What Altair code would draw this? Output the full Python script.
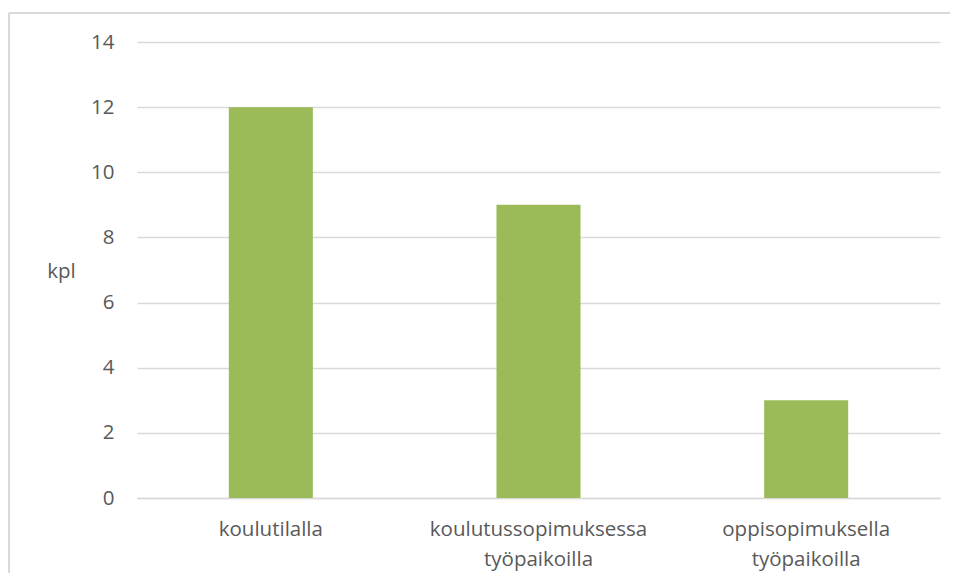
import altair as alt
import pandas as pd

categories = ["koulutilalla", "koulutussopimuksessa työpaikoilla", "oppisopimuksella työpaikoilla"]
values = [12, 9, 3]
y_ticks = [0, 2, 4, 6, 8, 10, 12, 14]

df = pd.DataFrame({"paikka": categories, "kpl": values})

FONT = "Open Sans"
FS = 20.5
GREY = "#595959"
GRID = "#D9D9D9"

bars = alt.Chart(df).mark_bar(color="#9BBB59").encode(
    x=alt.X(
        "paikka:N",
        sort=categories,
        scale=alt.Scale(paddingInner=0.686, paddingOuter=0.343),
        axis=alt.Axis(
            title=None,
            labelAngle=0,
            labelExpr="split(datum.label, ' ')",
            labelFont=FONT,
            labelFontSize=FS,
            labelColor=GREY,
            labelLineHeight=30,
            labelPadding=21,
            labelBaseline="top",
            labelLimit=500,
            ticks=False,
            domainColor=GRID,
            domainWidth=1.5,
        ),
    ),
    y=alt.Y(
        "kpl:Q",
        scale=alt.Scale(domain=[0, 14]),
        axis=alt.Axis(
            values=y_ticks,
            title="kpl",
            titleAngle=0,
            titleFont=FONT,
            titleFontSize=FS,
            titleFontWeight="normal",
            titleColor=GREY,
            titleX=-76,
            titleY=229,
            titleAlign="center",
            titleBaseline="middle",
            labelFont=FONT,
            labelFontSize=FS,
            labelColor=GREY,
            labelPadding=23,
            ticks=False,
            domain=False,
            gridColor=GRID,
            gridWidth=1.5,
        ),
    ),
)

top_border = alt.Chart(df).mark_rule(stroke=GRID, strokeWidth=2).encode(
    x=alt.value(-128),
    x2=alt.value(830),
    y=alt.value(-29),
)
left_border = alt.Chart(df).mark_rule(stroke=GRID, strokeWidth=2).encode(
    x=alt.value(-128),
    y=alt.value(-29),
    y2=alt.value(600),
)

chart = alt.layer(top_border, left_border, bars).properties(
    width=803,
    height=456,
    autosize=alt.AutoSizeParams(type="none"),
    padding={"left": 129, "top": 34, "right": 10, "bottom": 75},
).configure_view(stroke=None)

chart.save("out.html", embed_options={"renderer": "svg", "actions": False})
